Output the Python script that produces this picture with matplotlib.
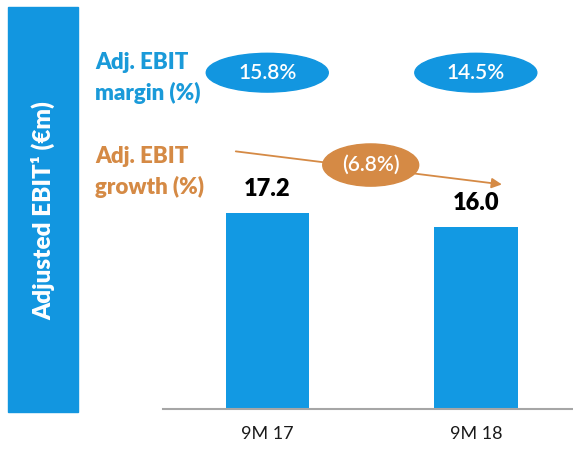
import matplotlib
matplotlib.use("Agg")
import matplotlib.pyplot as plt
from matplotlib.patches import Ellipse, Rectangle, FancyArrowPatch

# Data
periods = ["9M 17", "9M 18"]
adj_ebit = [17.2, 16.0]
margin_pct = ["15.8%", "14.5%"]
growth_label = "(6.8%)"

BLUE = "#1299e3"
BOX_BLUE = "#1296e0"
LABEL_BLUE = "#1a9ad9"
ORANGE = "#d58a45"

plt.rcParams["font.family"] = ["Lato", "DejaVu Sans"]

W, H = 573, 450
fig = plt.figure(figsize=(W / 100, H / 100), dpi=100)

# Main bar axes: spans from the baseline up to the top of the figure
ax = fig.add_axes([163 / W, 1 - 409 / H, (W - 163) / W, 409 / H])
x = list(range(len(periods)))
ax.bar(x, adj_ebit, width=0.4, color=BLUE, zorder=2)
ax.set_xlim(-0.5, 1.466)
ax.set_ylim(0, 409 / 11.4)
for s in ["top", "right", "left"]:
    ax.spines[s].set_visible(False)
ax.spines["bottom"].set_color("#a6a6a6")
ax.spines["bottom"].set_linewidth(1.5)
ax.set_yticks([])
ax.set_xticks(x)
ax.set_xticklabels(periods, fontsize=13, color="#1a1a1a")
ax.tick_params(axis="x", length=0, pad=12)

# Value labels above the bars
for xi, v in zip(x, adj_ebit):
    ax.text(xi, v + 1.1, f"{v:.1f}", ha="center", va="bottom",
            fontsize=17, fontweight="heavy", color="black")

# Margin bubbles
for xi, m in zip(x, margin_pct):
    ax.add_patch(Ellipse((xi, 29.5), 0.585, 3.4, color=BOX_BLUE, zorder=3))
    ax.text(xi, 29.5, m, ha="center", va="center", fontsize=15,
            fontweight="semibold", color="white", zorder=4)

# Growth arrow and bubble
ax.add_patch(FancyArrowPatch((-0.151, 22.6), (1.125, 19.7),
                             arrowstyle="-|>,head_length=6,head_width=3",
                             color=ORANGE, lw=1.3, zorder=2,
                             shrinkA=0, shrinkB=0))
ax.add_patch(Ellipse((0.496, 21.4), 0.46, 3.7, color=ORANGE, zorder=3))
ax.text(0.496, 21.4, growth_label, ha="center", va="center", fontsize=15,
        fontweight="semibold", color="white", zorder=4)

# Left side panel with the rotated axis title
fig.patches.append(Rectangle((8 / W, 1 - 412 / H), 70 / W, 405 / H,
                             transform=fig.transFigure, color=BOX_BLUE,
                             zorder=0))
fig.text(43 / W, 1 - 211 / H, "Adjusted EBIT¹ (€m)", rotation=90,
         ha="center", va="center", fontsize=17.5, fontweight="heavy",
         color="white")

# Row labels
fig.text(95 / W, 1 - 78 / H, "Adj. EBIT\nmargin (%)", ha="left",
         va="center", fontsize=16, fontweight="heavy", color=LABEL_BLUE,
         linespacing=1.5)
fig.text(95 / W, 1 - 172 / H, "Adj. EBIT\ngrowth (%)", ha="left",
         va="center", fontsize=16, fontweight="heavy", color=ORANGE,
         linespacing=1.5)

fig.savefig("out.png", dpi=100)
